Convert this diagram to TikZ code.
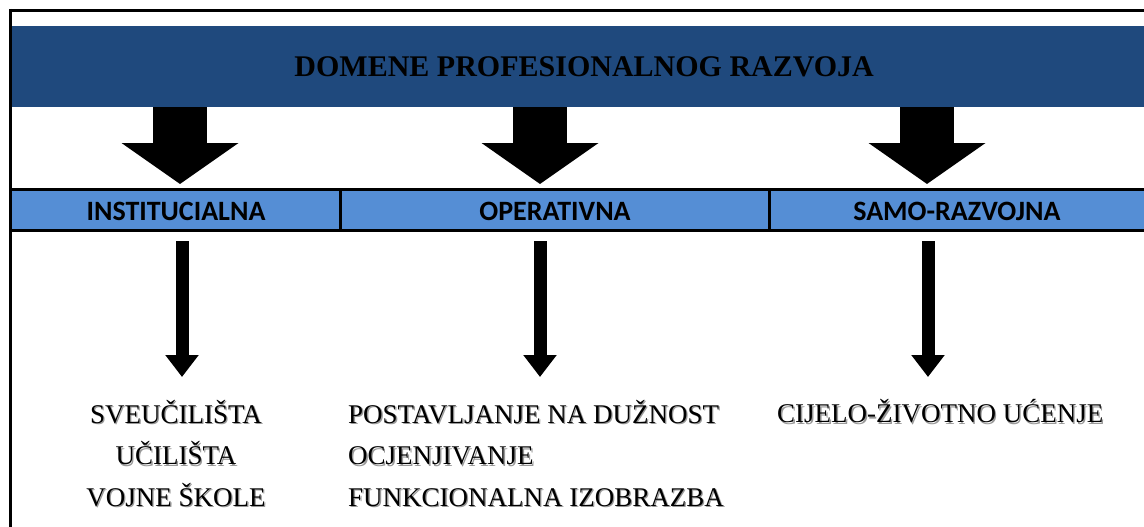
\documentclass[tikz,border=0pt]{standalone}
\usepackage{fontspec}
\setmainfont{Liberation Serif}
\newfontfamily\labelfont{Carlito}
\usetikzlibrary{arrows.meta,positioning}
\definecolor{bannerBlue}{RGB}{31,73,125}
\definecolor{bandBlue}{RGB}{85,142,213}
\newcommand{\shadowed}[1]{\leavevmode\rlap{\kern1.3pt\raisebox{-1.3pt}{\textcolor{black!40}{#1}}}#1}

\begin{document}
\begin{tikzpicture}[x=1pt,y=-1pt,
    bandlabel/.style={font=\labelfont\bfseries\fontsize{28}{32}\selectfont},
    itemtext/.style={font=\fontsize{27}{41.5}\selectfont, inner sep=0pt},
    bigarrow/.style={line width=54pt, -{Triangle[width=115pt,length=41pt]}},
    smallarrow/.style={line width=13pt, -{Triangle[width=32pt,length=22pt]}}]
    \useasboundingbox (0,0) rectangle (1144,527);
    % Draw the banner
    \node[fill=bannerBlue, anchor=north west, minimum width=1132pt, minimum height=81pt,
          inner sep=0pt, font=\bfseries\fontsize{30}{34}\selectfont] (banner) at (12,26)
          {\hspace*{12pt}DOMENE PROFESIONALNOG RAZVOJA};
    % Big arrows down to the band
    \foreach \x in {180,540,927} {
        \draw[bigarrow] (\x,0 |- banner.south) -- (\x,184);
    }
    % Draw the band
    \fill[bandBlue] (12,190) rectangle (1144,230);
    \draw[line width=3.5pt] (12,189.5) -- (1144,189.5);
    \draw[line width=3pt] (12,230.5) -- (1144,230.5);
    \foreach \x in {340.5,769.5} {
        \draw[line width=3pt] (\x,190) -- (\x,230); % Cell dividers
    }
    \node[bandlabel] (inst) at (176,211) {INSTITUCIALNA};
    \node[bandlabel] (oper) at (555,211) {OPERATIVNA};
    \node[bandlabel] (samo) at (957,211) {SAMO-RAZVOJNA};
    % Small arrows down to the lists
    \foreach \x in {182,540,928} {
        \draw[smallarrow] (\x,241) -- (\x,377);
    }
    % The lists
    \node[itemtext, align=center] (instList) at (176,454)
        {\shadowed{SVEUČILIŠTA}\\ \shadowed{UČILIŠTA}\\ \shadowed{VOJNE ŠKOLE}};
    \node[itemtext, align=left, anchor=west] (operList) at (348,454)
        {\shadowed{POSTAVLJANJE NA DUŽNOST}\\ \shadowed{OCJENJIVANJE}\\ \shadowed{FUNKCIONALNA IZOBRAZBA}};
    \node[itemtext, anchor=west] (samoList) at (777,412) {\shadowed{CIJELO-ŽIVOTNO UĆENJE}};
    % Outer frame
    \draw[line width=3pt] (10.5,9) -- (10.5,527);
    \draw[line width=3pt] (9,11) -- (1144,11);
\end{tikzpicture}
\end{document}
